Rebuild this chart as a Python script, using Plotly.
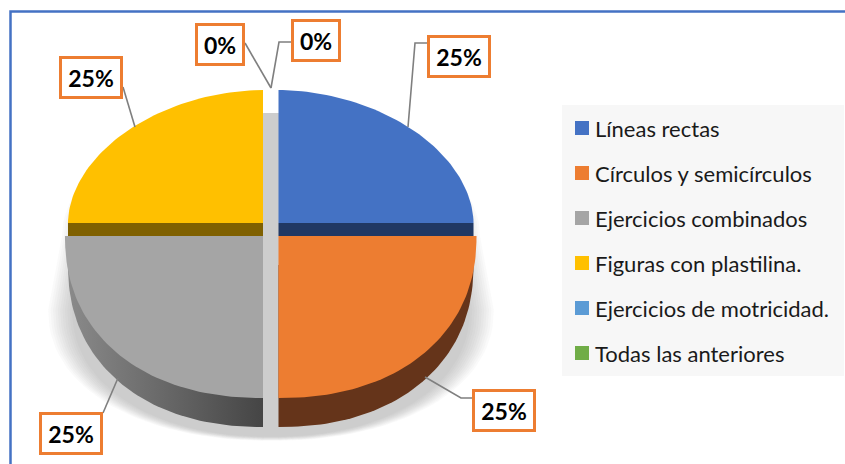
import numpy as np
import plotly.graph_objects as go

# chart values
categories = ['Líneas rectas', 'Círculos y semicírculos', 'Ejercicios combinados',
              'Figuras con plastilina.', 'Ejercicios de motricidad.', 'Todas las anteriores']
values = [25, 25, 25, 25, 0, 0]
colors = ['#4472C4', '#ED7D31', '#A5A5A5', '#FFC000', '#5B9BD5', '#70AD47']
side_colors = ['#203864', '#65341A', '#555555', '#7F6000', '#2E5B85', '#375623']

# label box centres and leader lines, in slice order
label_pos = [(459, 56), (504, 410), (71, 433), (91, 77), (220, 44), (316, 40)]
leaders = [
    [(427, 43), (415, 43), (408, 127)],
    [(425, 377), (461, 398), (472, 398)],
    [(118, 378), (103, 413)],
    [(123, 87), (135, 127)],
    [(245, 43), (271, 88)],
    [(291, 42), (279, 42), (271, 88)],
]
legend_y = [128, 173, 218, 263, 308, 353]


def edge(angle, cx, cy, rx, ry, n):
    # point on a rounded ellipse, angle clockwise from 12 o'clock
    s, c = np.sin(angle), np.cos(angle)
    x = np.sign(s) * np.abs(s) ** (2 / n)
    y = np.sign(c) * np.abs(c) ** (2 / n)
    return cx + rx * x, cy - ry * y


def shadow_outline(grow):
    # flat arc at the back, sides widening towards a rounder front arc
    a = np.radians(np.linspace(-90, 90, 60))
    ux, uy = edge(a, 271, 236, 200 + grow, 123, 2.0)
    lx, ly = edge(a + np.pi, 271, 310, 212 + grow * 1.2, 129 + grow * 0.2, 2.15)
    return np.r_[ux, lx], np.r_[uy, ly]


fig = go.Figure()

# soft shadow under the pie
for grow in [9, 7, 5, 3, 1, -1, -3, -5, -7, -9, -11]:
    sx, sy = shadow_outline(grow)
    fig.add_trace(go.Scatter(x=sx, y=sy, mode='lines', line_width=0, fill='toself',
                             fillcolor='rgba(120,120,120,0.037)', hoverinfo='skip'))

ends = np.cumsum(values) / sum(values) * 2 * np.pi
starts = np.r_[0, ends[:-1]]
for i, val in enumerate(values):
    if val == 0:
        continue
    a = np.linspace(starts[i], ends[i], 60)
    mid = (starts[i] + ends[i]) / 2
    right = mid < np.pi
    cx = 278.5 if right else 263
    if mid < np.pi / 2 or mid > 3 * np.pi / 2:
        # back slices: flatter, side shows as a thin band under the straight edge
        tx, ty = edge(a, cx, 223, 195, 133, 1.9)
        outer = tx[-1] if right else tx[0]
        fig.add_trace(go.Scatter(x=[cx, outer, outer, cx], y=[223, 223, 236, 236], mode='lines',
                                 line_width=0, fill='toself', fillcolor=side_colors[i], hoverinfo='skip'))
        fig.add_trace(go.Scatter(x=np.r_[cx, tx], y=np.r_[223, ty], mode='lines', line_width=0,
                                 fill='toself', fillcolor=colors[i], hoverinfo='skip'))
    else:
        tx, ty = edge(a, cx, 236, 198, 162, 2.2)
        lx, ly = edge(a, cx, 265, 195, 162, 2.2)
        side = dict(fillcolor=side_colors[i])
        if i == 2:
            side = dict(fillgradient=dict(type='horizontal',
                                          colorscale=[[0, '#8A8A8A'], [1, '#454545']]))
        fig.add_trace(go.Scatter(x=np.r_[cx, lx], y=np.r_[265, ly], mode='lines', line_width=0,
                                 fill='toself', hoverinfo='skip', **side))
        fig.add_trace(go.Scatter(x=np.r_[cx, tx], y=np.r_[236, ty], mode='lines', line_width=0,
                                 fill='toself', fillcolor=colors[i], hoverinfo='skip'))

# leader lines
for pts in leaders:
    fig.add_trace(go.Scatter(x=[p[0] for p in pts], y=[p[1] for p in pts], mode='lines',
                             line=dict(color='#7F7F7F', width=1.6), hoverinfo='skip'))

# legend swatches
fig.add_trace(go.Scatter(x=[582] * len(categories), y=legend_y, mode='markers',
                         marker=dict(symbol='square', size=14, color=colors), hoverinfo='skip'))

shapes = [
    dict(type='rect', x0=562, x1=844, y0=105, y1=376, fillcolor='#F7F7F7', line_width=0, layer='below'),
    dict(type='path', path='M 10.5 464 L 10.5 11.5 L 845 11.5', line=dict(color='#4472C4', width=2.5)),
]

annotations = []
for name, y in zip(categories, legend_y):
    annotations.append(dict(x=593, y=y, text=name, showarrow=False, xanchor='left', yanchor='middle',
                            font=dict(family='Lato', size=22, color='#1A1A1A')))
for val, (x, y) in zip(values, label_pos):
    annotations.append(dict(x=x, y=y, text=f'<b>{val}%</b>', showarrow=False, xanchor='center', yanchor='middle',
                            width=58 if val else 44, height=37, bgcolor='white', bordercolor='#ED7D31',
                            borderwidth=3, borderpad=0, font=dict(family='Lato', size=23, color='black')))

fig.update_layout(
    width=845, height=464,
    margin=dict(l=0, r=0, t=0, b=0),
    paper_bgcolor='white',
    plot_bgcolor='rgba(0,0,0,0)',
    showlegend=False,
    shapes=shapes,
    annotations=annotations,
    xaxis=dict(range=[0, 845], visible=False, fixedrange=True),
    yaxis=dict(range=[464, 0], visible=False, fixedrange=True),
)

# browser default body margin would push the chart off by 8px
fig.write_html("out.html", config={'displayModeBar': False},
               post_script="document.body.style.margin='0';")
